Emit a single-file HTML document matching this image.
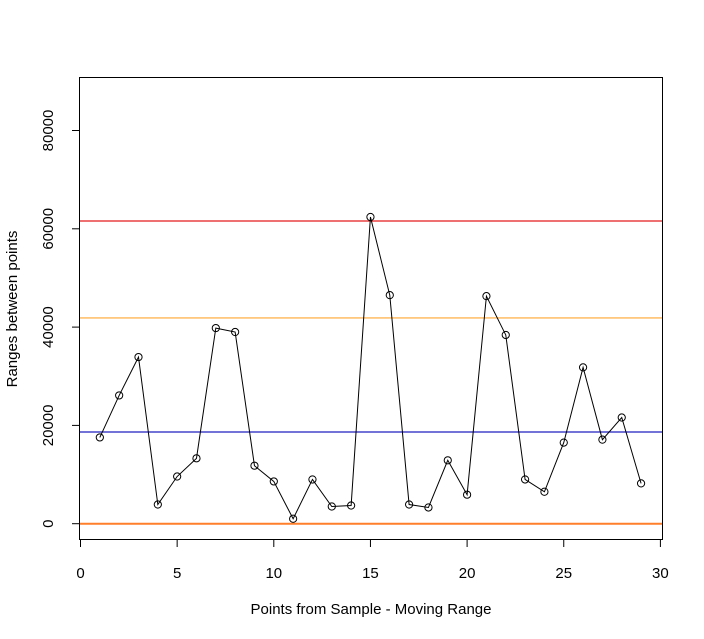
<!DOCTYPE html>
<html><head><meta charset="utf-8"><style>body{margin:0;background:#fff}svg{display:block}text{font-family:"Liberation Sans",sans-serif;font-size:15px;fill:#000}</style></head>
<body>
<svg id="c" width="704" height="639"></svg>
<script>
const xs=[1,2,3,4,5,6,7,8,9,10,11,12,13,14,15,16,17,18,19,20,21,22,23,24,25,26,27,28,29];
const ranges=[17550,26100,33900,3900,9600,13300,39800,39000,11800,8600,1000,9000,3500,3700,62400,46500,3900,3300,12900,5900,46300,38400,9000,6500,16500,31800,17100,21600,8200];
const xTicks=[0,5,10,15,20,25,30];
const yTicks=[0,20000,40000,60000,80000];
const refValues=[61590,41860,18660,0];
const refColors=['#e31a1c','#ffa630','#1f1fbf','#ff7f2a'];
const NS='http://www.w3.org/2000/svg',svg=document.getElementById('c');
const X=v=>80.5+v*19.33, Y=v=>523.7-v*0.004915;
function el(t,a,p){const e=document.createElementNS(NS,t);for(const k in a)e.setAttribute(k,a[k]);(p||svg).appendChild(e);return e;}
let b=el('rect',{x:79.5,y:77.5,width:583,height:462,fill:'none',stroke:'#000'});


refValues.forEach((v,i)=>{const l=el('line',{x1:80,x2:662,y1:Y(v),y2:Y(v),stroke:refColors[i],'stroke-width':i==3?2:1.2});

});
xTicks.forEach(t=>{el('line',{x1:X(t),x2:X(t),y1:540,y2:547,stroke:'#000'});
const tx=el('text',{x:X(t),y:578,'text-anchor':'middle'});tx.textContent=t;

});
yTicks.forEach(t=>{el('line',{x1:72,x2:79.5,y1:Y(t),y2:Y(t),stroke:'#000'});
const tx=el('text',{x:0,y:0,'text-anchor':'middle',transform:`translate(53,${Y(t)}) rotate(-90)`});tx.textContent=t;

});
const pl=el('polyline',{points:xs.map((x,i)=>X(x)+','+Y(ranges[i])).join(' '),fill:'none',stroke:'#000'});


xs.forEach((x,i)=>{const c=el('circle',{cx:X(x),cy:Y(ranges[i]),r:3.6,fill:'none',stroke:'#000'});

});
const xt=el('text',{x:371,y:614,'text-anchor':'middle'});xt.textContent='Points from Sample - Moving Range';


const yt=el('text',{x:0,y:0,'text-anchor':'middle',transform:'translate(17,309) rotate(-90)'});yt.textContent='Ranges between points';


</script>
</body></html>
